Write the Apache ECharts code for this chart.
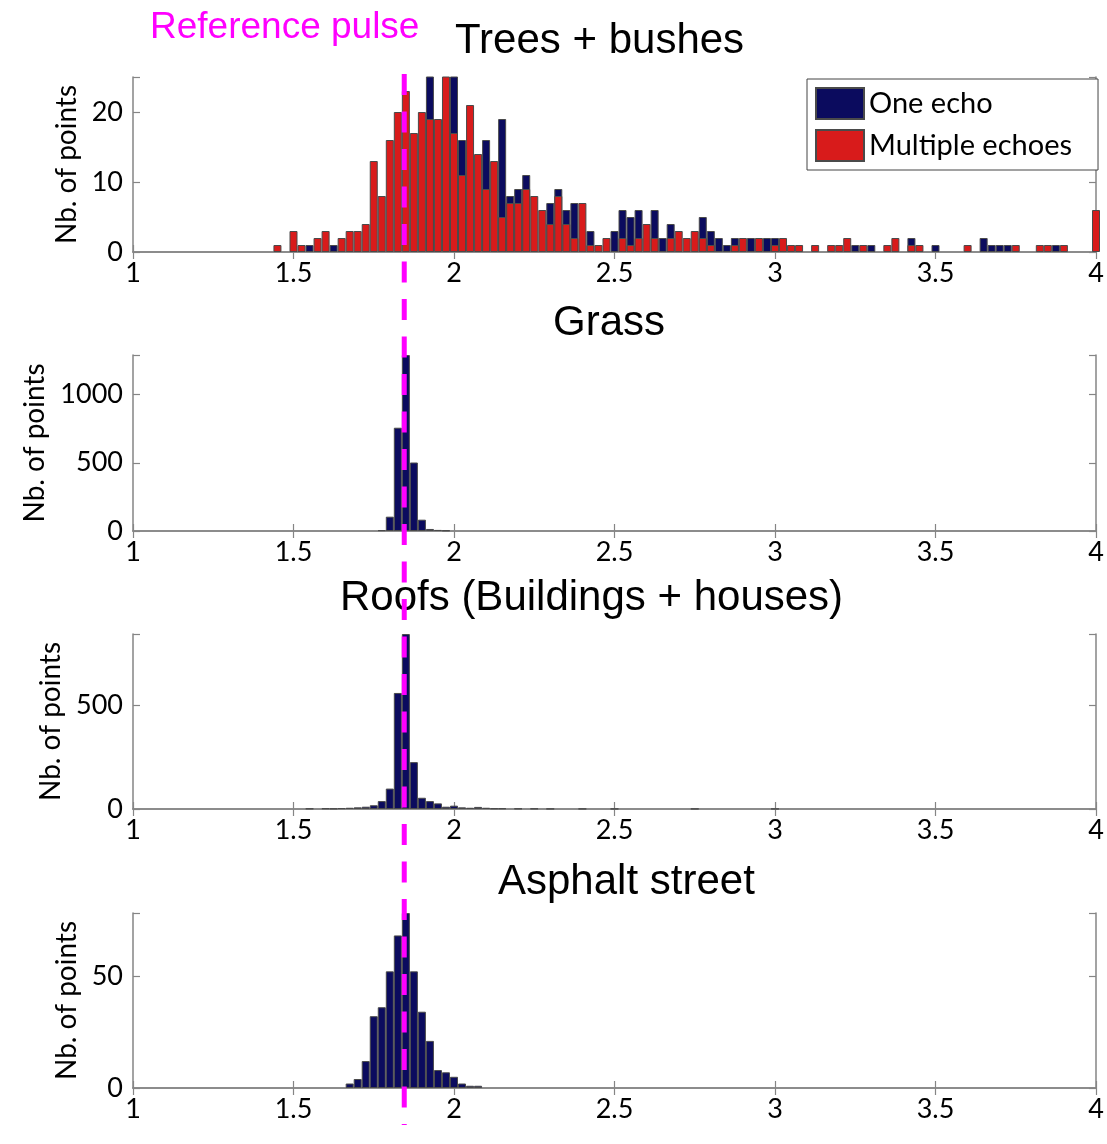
<!DOCTYPE html>
<html><head><meta charset="utf-8">
<script src="https://cdn.jsdelivr.net/npm/echarts@6/dist/echarts.min.js"></script>
<style>html,body{margin:0;padding:0;background:#fff}#c{width:1107px;height:1144px}</style>
</head><body><div id="c"></div>
<script>
// ---- data ----
const treesBins = [1.45,1.5,1.525,1.55,1.575,1.6,1.625,1.65,1.675,1.7,
  1.725,1.75,1.775,1.8,1.825,1.85,1.875,1.9,1.925,1.95,
  1.975,2.0,2.025,2.05,2.075,2.1,2.125,2.15,2.175,2.2,
  2.225,2.25,2.275,2.3,2.325,2.35,2.375,2.4,2.425,2.45,
  2.475,2.5,2.525,2.55,2.575,2.6,2.625,2.65,2.675,2.7,
  2.725,2.75,2.775,2.8,2.825,2.85,2.875,2.9,2.925,2.95,
  2.975,3.0,3.025,3.05,3.075,3.125,3.175,3.2,3.225,3.25,
  3.275,3.3,3.35,3.375,3.425,3.45,3.5,3.6,
  3.65,3.675,3.7,3.725,3.75,3.825,3.85,3.875,3.9,4.0];
const treesMulti = [1,3,1,0,2,3,0,2,3,3,
  4,13,8,16,20,23,17,20,19,19,
  26,17,11,21,14,9,13,5,7,7,
  9,8,6,4,8,4,2,7,1,1,
  2,0,2,1,2,4,2,0,2,3,
  2,3,2,1,0,0,1,2,0,2,
  0,1,2,1,1,1,1,1,2,0,
  1,0,1,2,1,1,0,1,
  0,0,0,0,1,1,1,0,1,6];
const treesOne = [0,0,0,1,0,0,1,0,0,0,
  0,0,0,0,0,0,0,0,7,0,
  0,9,5,0,0,7,0,14,1,2,
  2,0,0,3,1,2,5,0,2,0,
  0,3,4,4,4,0,4,2,2,0,
  0,0,3,2,2,1,1,0,2,0,
  2,1,0,0,0,0,0,0,0,1,
  0,1,0,0,1,0,1,0,
  2,1,1,1,0,0,0,1,0,0];
const grassBins = [1.775,1.8,1.825,1.85,1.875,1.9,1.925,1.95,1.975];
const grassCounts = [6,105,757,1290,502,83,15,8,4];
const roofBins = [1.55,1.6,1.625,1.65,1.675,1.7,1.725,1.75,1.775,1.8,1.825,1.85,1.875,1.9,1.925,1.95,1.975,2.0,2.025,2.05,2.075,2.1,2.125,2.15,2.2,2.25,2.3,2.4,2.5,2.75,3.0];
const roofCounts = [2,3,2,4,6,8,11,18,38,98,557,840,225,54,38,27,11,16,8,6,10,6,3,3,2,2,1,1,1,1,1];
const asphaltBins = [1.675,1.7,1.725,1.75,1.775,1.8,1.825,1.85,1.875,1.9,1.925,1.95,1.975,2.0,2.025,2.05,2.075];
const asphaltCounts = [2,4,12,32,36,52,68,78,52,34,21,8,7,5,2,1,1];
const referencePulse = 1.845;
const panelTitles = ['Trees + bushes','Grass','Roofs (Buildings + houses)','Asphalt street'];
const yMaxes = [25,1290,840,78];
const yIntervals = [10,500,500,50];
const legendNames = ['One echo','Multiple echoes'];

// ---- layout ----
const NAVY = '#0b0b5e', RED = '#d81b1b', EDGE = '#4a4a4a', AX = '#858585';
const FONT = 'Lato';
const gridTops = [77,355,634,913];
const gridH = [175,176,175,175];
const nameGaps = [50,80,66,48];
const titlePos = [[455,20],[553,302],[340,577],[498,861]];

const grids = [], xAxes = [], yAxes = [], series = [], titles = [];
for (let i = 0; i < 4; i++) {
  grids.push({left:133, top:gridTops[i], width:963, height:gridH[i], containLabel:false});
  const lineSt = {show:true, lineStyle:{color:AX, width:1.5}};
  const tickSt = {show:true, inside:true, length:7, lineStyle:{color:AX, width:1.2}};
  xAxes.push({type:'value', gridIndex:i, min:1, max:4, interval:0.5, position:'bottom',
    axisLine:lineSt, axisTick:tickSt, splitLine:{show:false},
    axisLabel:{fontFamily:FONT, fontSize:27, color:'#000', margin:8}});
  xAxes.push({type:'value', gridIndex:i, min:1, max:4, interval:0.5, position:'top',
    axisLine:lineSt, axisTick:tickSt, splitLine:{show:false}, axisLabel:{show:false}});
  const mx = yMaxes[i];
  yAxes.push({type:'value', gridIndex:i, min:0, max:mx, interval:yIntervals[i], position:'left',
    name:'Nb. of points', nameLocation:'middle', nameGap:nameGaps[i], nameRotate:90,
    nameTextStyle:{fontFamily:FONT, fontSize:28, color:'#000'},
    axisLine:lineSt, axisTick:tickSt, splitLine:{show:false},
    axisLabel:{fontFamily:FONT, fontSize:27, color:'#000', margin:10,
      formatter:(v)=> v===mx ? '' : String(v)}});
  yAxes.push({type:'value', gridIndex:i, min:0, max:mx, interval:yIntervals[i], position:'right',
    axisLine:lineSt, axisTick:tickSt, splitLine:{show:false}, axisLabel:{show:false}});
  titles.push({text:panelTitles[i], left:titlePos[i][0], top:titlePos[i][1], padding:0,
    textStyle:{fontFamily:'Liberation Sans', fontSize:42, fontWeight:'normal', color:'#000'}});
}
titles.push({text:'Reference pulse', left:150, top:9, padding:0,
  textStyle:{fontFamily:'Liberation Sans', fontSize:37, fontWeight:'normal', color:'#ff00ff'}});

// one-echo bars sit on top of the multiple-echo bars: draw the total behind, the multiple part in front
const treesTotal = treesBins.map((b,k)=> treesMulti[k] + treesOne[k]);
const barCommon = {type:'bar', barWidth:8, barGap:'-100%', clip:true, emphasis:{disabled:true}};
series.push(Object.assign({}, barCommon, {name:legendNames[0], xAxisIndex:0, yAxisIndex:0, z:2,
  itemStyle:{color:NAVY, borderColor:EDGE, borderWidth:1},
  data: treesBins.map((b,k)=> treesOne[k] > 0 ? [b, treesTotal[k]] : [b, '-'])}));
series.push(Object.assign({}, barCommon, {name:legendNames[1], xAxisIndex:0, yAxisIndex:0, z:3,
  itemStyle:{color:RED, borderColor:EDGE, borderWidth:1},
  data: treesBins.map((b,k)=> treesMulti[k] > 0 ? [b, treesMulti[k]] : [b, '-'])}));
const others = [[grassBins,grassCounts],[roofBins,roofCounts],[asphaltBins,asphaltCounts]];
others.forEach((p, j) => {
  const i = j + 1;
  series.push(Object.assign({}, barCommon, {name:'one_'+i, xAxisIndex:2*i, yAxisIndex:2*i,
    itemStyle:{color:NAVY, borderColor:EDGE, borderWidth:1},
    data: p[0].map((b,k)=>[b, p[1][k]])}));
});

// reference pulse overlay grid
grids.push({left:133, top:74, width:963, height:1051});
xAxes.push({type:'value', gridIndex:4, min:1, max:4, show:false});
yAxes.push({type:'value', gridIndex:4, min:0, max:1, show:false});
series.push({type:'line', name:'Reference pulse', xAxisIndex:8, yAxisIndex:8, z:10,
  symbol:'none', silent:true, animation:false,
  lineStyle:{color:'#ff00ff', width:5, type:[21,16.5]},
  data:[[referencePulse,1],[referencePulse,0]]});

const chart = echarts.init(document.getElementById('c'), null, {renderer:'canvas'});
chart.setOption({
  animation:false,
  backgroundColor:'#fff',
  title:titles,
  legend:{data:legendNames, orient:'vertical', left:807, top:79, itemWidth:48, itemHeight:31, itemGap:9,
    padding:[8,26,8,8], borderColor:'#444', borderWidth:1, backgroundColor:'#fff', icon:'rect',
    selectedMode:false, textStyle:{fontFamily:FONT, fontSize:29, color:'#000'}},
  grid:grids, xAxis:xAxes, yAxis:yAxes, series:series
});
</script></body></html>
